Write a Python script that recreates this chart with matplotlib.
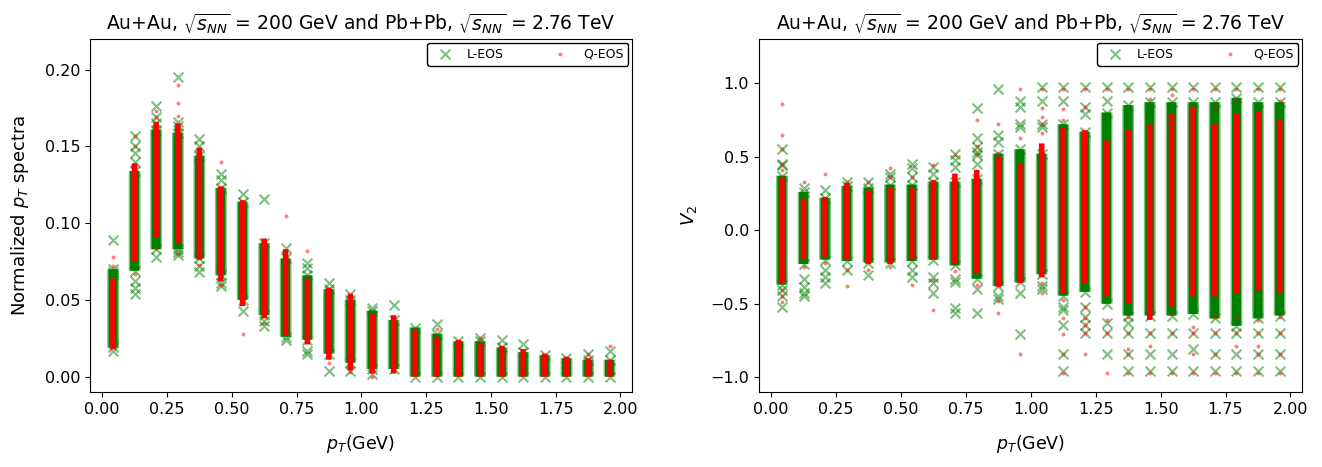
import matplotlib.pyplot as plt
import numpy as np

# pT bin centres (GeV)
pt_bins = [0.042, 0.125, 0.208, 0.292, 0.375, 0.458, 0.542, 0.625, 0.708, 0.792, 0.875, 0.958,
           1.042, 1.125, 1.208, 1.292, 1.375, 1.458, 1.542, 1.625, 1.708, 1.792, 1.875, 1.958]

# ---- normalized pT spectra ----
# dense part of each column (low / high), L-EOS and Q-EOS
spec_L_lo = [0.019, 0.069, 0.083, 0.083, 0.077, 0.066, 0.050, 0.040, 0.026, 0.024, 0.015, 0.009,
             0.005, 0.005, 0.000, 0.000, 0.000, 0.000, 0.000, 0.000, 0.000, 0.000, 0.000, 0.000]
spec_L_hi = [0.070, 0.134, 0.161, 0.159, 0.144, 0.123, 0.114, 0.087, 0.077, 0.066, 0.057, 0.050,
             0.043, 0.037, 0.032, 0.028, 0.023, 0.023, 0.019, 0.016, 0.014, 0.012, 0.011, 0.011]
spec_Q_lo = [0.018, 0.075, 0.091, 0.087, 0.076, 0.062, 0.046, 0.038, 0.027, 0.021, 0.011, 0.004,
             0.002, 0.002, 0.000, 0.000, 0.000, 0.000, 0.000, 0.000, 0.000, 0.000, 0.000, 0.000]
spec_Q_hi = [0.064, 0.139, 0.166, 0.165, 0.149, 0.124, 0.115, 0.090, 0.083, 0.064, 0.058, 0.054,
             0.041, 0.040, 0.031, 0.026, 0.024, 0.022, 0.020, 0.018, 0.015, 0.013, 0.012, 0.011]
# isolated points
spec_L_out = [[0.089, 0.068, 0.066, 0.017], [0.157, 0.150, 0.146, 0.140, 0.062, 0.058, 0.054],
              [0.176, 0.169, 0.165, 0.078], [0.195, 0.166, 0.163, 0.079, 0.081],
              [0.155, 0.150, 0.068, 0.072], [0.132, 0.128, 0.059, 0.061], [0.119, 0.043],
              [0.116, 0.033, 0.036], [0.084, 0.024], [0.074, 0.071, 0.017, 0.015], [0.061, 0.004],
              [0.054, 0.004], [0.045, 0.002], [0.047], [], [0.034], [], [0.025], [0.024], [0.021],
              [], [], [0.015], [0.017]]
spec_Q_out = [[0.078, 0.072], [0.157, 0.150, 0.067], [0.173, 0.169, 0.084],
              [0.190, 0.178, 0.170, 0.080], [0.149, 0.073], [0.140, 0.060], [0.028], [0.035],
              [0.1045], [0.082], [0.009], [0.052, 0.003], [-0.0005], [], [], [0.031], [],
              [0.025], [], [], [], [], [0.015], [0.0197]]

# ---- v2 ----
v2_L_lo = [-0.37, -0.23, -0.20, -0.21, -0.22, -0.22, -0.21, -0.20, -0.24, -0.33, -0.38, -0.355,
           -0.30, -0.445, -0.42, -0.50, -0.58, -0.58, -0.58, -0.57, -0.60, -0.65, -0.60, -0.58]
v2_L_hi = [0.37, 0.26, 0.22, 0.30, 0.29, 0.31, 0.31, 0.33, 0.33, 0.35, 0.52, 0.55,
           0.52, 0.72, 0.67, 0.80, 0.85, 0.87, 0.87, 0.87, 0.87, 0.90, 0.87, 0.87]
v2_Q_lo = [-0.36, -0.20, -0.18, -0.20, -0.23, -0.23, -0.20, -0.20, -0.23, -0.29, -0.385, -0.36,
           -0.32, -0.43, -0.36, -0.45, -0.50, -0.61, -0.52, -0.45, -0.45, -0.43, -0.41, -0.43]
v2_Q_hi = [0.36, 0.215, 0.225, 0.32, 0.27, 0.29, 0.29, 0.34, 0.385, 0.41, 0.50, 0.45,
           0.59, 0.70, 0.68, 0.61, 0.68, 0.72, 0.79, 0.84, 0.72, 0.79, 0.81, 0.75]
v2_L_out = [[0.55, 0.45, 0.44, -0.41, -0.45, -0.52], [0.29, -0.33, -0.385, -0.43, -0.45],
            [0.27, -0.27, -0.32, -0.36], [0.33, -0.27], [0.33, -0.305], [0.385, 0.36],
            [0.45, 0.42, 0.36, -0.27, -0.32], [0.43, 0.385, -0.32, -0.36, -0.43],
            [0.52, 0.475, 0.43, -0.33, -0.35, -0.53, -0.56],
            [0.83, 0.63, 0.565, 0.53, 0.51, 0.45, -0.40, -0.565], [0.96, 0.645, 0.60, -0.45, -0.47],
            [0.88, 0.84, 0.72, 0.70, -0.43, -0.705], [0.97, 0.88, 0.72, 0.70, -0.38, -0.40],
            [0.97, 0.88, -0.52, -0.54, -0.645, -0.84, -0.96],
            [0.97, 0.84, 0.79, -0.52, -0.59, -0.645, -0.70], [0.97, 0.88, -0.63, -0.70, -0.84],
            [0.97, -0.63, -0.70, -0.84, -0.96], [0.97, -0.70, -0.84, -0.96], [0.97, -0.70, -0.84, -0.96],
            [0.97, -0.70, -0.81, -0.96], [0.97, -0.70, -0.84, -0.96], [0.97, -0.70, -0.84, -0.96],
            [0.97, -0.70, -0.84, -0.96], [0.97, -0.70, -0.84, -0.96]]
v2_Q_out = [[0.86, 0.645, 0.55, 0.45, 0.41, -0.41, -0.45, -0.49], [0.33, -0.25], [0.385, -0.225],
            [0.33, -0.27, -0.38], [0.33, -0.27], [0.425, 0.36, -0.25], [0.36, -0.37],
            [0.44, -0.34, -0.54], [0.51, -0.28], [0.75, 0.575, 0.52, -0.37], [0.72, 0.525, -0.48, -0.56],
            [0.96, 0.625, -0.84], [0.96, 0.83, 0.77, 0.72, 0.66, -0.36, -0.43],
            [0.96, 0.825, 0.75, -0.475, -0.60, -0.705, -0.84, -0.97],
            [0.96, 0.84, -0.52, -0.60, -0.645, -0.70, -0.84], [0.96, -0.61, -0.70, -0.97],
            [0.96, -0.59, -0.70, -0.81, -0.84, -0.97], [0.96, 0.89, -0.70, -0.79, -0.97],
            [0.96, 0.92, -0.57, -0.70, -0.97], [0.96, -0.66, -0.70, -0.84, -0.97],
            [0.96, 0.84, -0.59, -0.70, -0.84, -0.97], [0.96, 0.88, -0.59, -0.70, -0.79, -0.97],
            [0.96, -0.61, -0.70, -0.79, -0.84, -0.97], [0.96, 0.88, -0.59, -0.70, -0.84, -0.97]]

title = r'Au+Au, $\sqrt{s_{NN}}$ = 200 GeV and Pb+Pb, $\sqrt{s_{NN}}$ = 2.76 TeV'


def flatten(xs, lists):
    px, py = [], []
    for x, vals in zip(xs, lists):
        px += [x] * len(vals)
        py += list(vals)
    return px, py


def draw_panel(ax, L_lo, L_hi, Q_lo, Q_hi, L_out, Q_out):
    # L-EOS columns
    ax.vlines(pt_bins, L_lo, L_hi, color='green', lw=8.5, alpha=0.5, zorder=2, snap=False)
    ax.vlines(pt_bins, L_lo, L_hi, color='green', lw=6.5, zorder=2, snap=False)
    lx, ly = flatten(pt_bins, L_out)
    ax.scatter(pt_bins * 2, list(L_lo) + list(L_hi), marker='x', s=50, color='green',
               alpha=0.5, zorder=3)
    ax.scatter(lx, ly, marker='x', s=50, color='green', alpha=0.5, zorder=3, label='L-EOS')
    # Q-EOS columns
    ax.vlines(pt_bins, Q_lo, Q_hi, color='red', lw=4, zorder=4, snap=False)
    qx, qy = flatten(pt_bins, Q_out)
    ax.scatter(qx, qy, marker='o', s=8, color='red', alpha=0.5, linewidths=0, zorder=5,
               label='Q-EOS')
    ax.set_xlim(-0.047, 2.045)
    ax.set_xticks([0.0, 0.25, 0.5, 0.75, 1.0, 1.25, 1.5, 1.75, 2.0])
    ax.set_xlabel(r'$p_T$(GeV)', fontsize=12.5, labelpad=12)
    ax.set_title(title, fontsize=13.5)
    ax.tick_params(labelsize=11.5)
    leg = ax.legend(loc='upper right', ncol=2, fontsize=9, columnspacing=3.5,
                    edgecolor='black', framealpha=1, borderaxespad=0.3)
    leg.get_frame().set_linewidth(1.0)


fig = plt.figure(figsize=(13.22, 4.67), dpi=100)
ax1 = fig.add_axes([0.0681, 0.1606, 0.410, 0.756])
ax2 = fig.add_axes([0.574, 0.1606, 0.411, 0.756])

draw_panel(ax1, spec_L_lo, spec_L_hi, spec_Q_lo, spec_Q_hi, spec_L_out, spec_Q_out)
ax1.set_ylim(-0.01, 0.22)
ax1.set_yticks([0.0, 0.05, 0.10, 0.15, 0.20])
ax1.set_ylabel(r'Normalized $p_T$ spectra', fontsize=13, labelpad=10)

draw_panel(ax2, v2_L_lo, v2_L_hi, v2_Q_lo, v2_Q_hi, v2_L_out, v2_Q_out)
ax2.set_ylim(-1.1, 1.3)
ax2.set_yticks([-1.0, -0.5, 0.0, 0.5, 1.0])
ax2.set_ylabel(r'$V_2$', fontsize=13, labelpad=8)

fig.savefig('out.png', dpi=100)
